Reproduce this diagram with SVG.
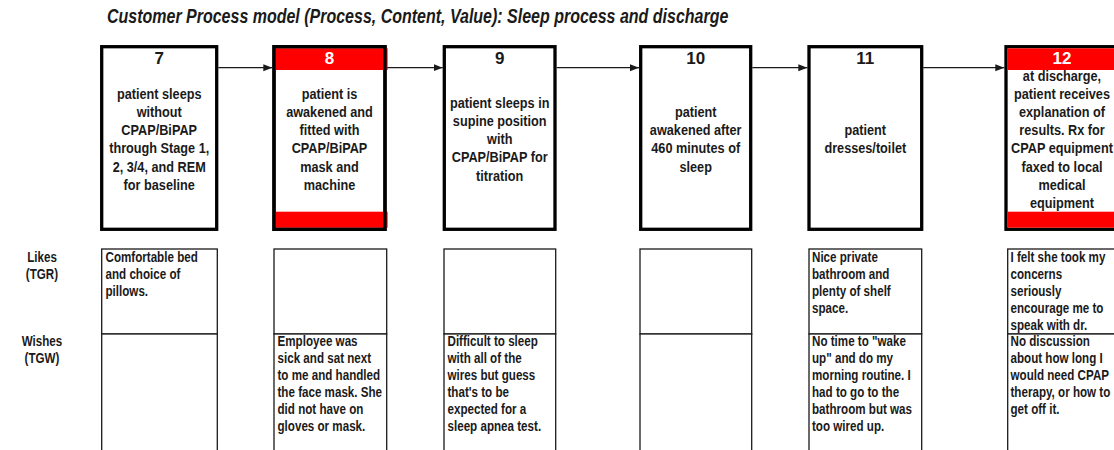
<svg xmlns="http://www.w3.org/2000/svg" width="1114" height="450" viewBox="0 0 1114 450">
<style>
text{font-family:"Liberation Sans",Arial,sans-serif;font-weight:bold;fill:#1a1a1a}
.title{font-size:19.5px;font-style:italic}
.num{font-size:17px;text-anchor:middle}
.numw{fill:#fff}
.body{font-size:15.3px;text-anchor:middle}
.cell{font-size:14px}
.lbl{font-size:14px;text-anchor:middle}
.box{fill:#fff;stroke:#000;stroke-width:3.3}
.band{fill:#ff0000}
.tbl{fill:#fff;stroke:#1a1a1a;stroke-width:1.3}
.conn{stroke:#1a1a1a;stroke-width:1.3;fill:none}
</style>
<defs>
<marker id="arr" markerUnits="userSpaceOnUse" markerWidth="10" markerHeight="8" refX="9" refY="3.5" orient="auto">
<path d="M0,0 L9,3.5 L0,7 z" fill="#1a1a1a"/>
</marker>
</defs>
<rect width="1114" height="450" fill="#fff"/>
<g id="title" transform="translate(107 0) scale(0.82 1)"><text class="title" x="0" y="23.5">Customer Process model (Process, Content, Value): Sleep process and discharge</text></g>

<g id="connectors">
<line class="conn" x1="218.3" y1="67.7" x2="272.3" y2="67.7" marker-end="url(#arr)"/>
<line class="conn" x1="386.7" y1="67.7" x2="442.7" y2="67.7" marker-end="url(#arr)"/>
<line class="conn" x1="556.7" y1="67.7" x2="639" y2="67.7" marker-end="url(#arr)"/>
<line class="conn" x1="752.3" y1="67.7" x2="807.3" y2="67.7" marker-end="url(#arr)"/>
<line class="conn" x1="923.3" y1="67.7" x2="1004.3" y2="67.7" marker-end="url(#arr)"/>
</g>

<g id="step7">
<rect class="box" x="101.7" y="46.7" width="115" height="182.6"/>
<text class="num" x="159.2" y="63.5">7</text>
<g transform="translate(159.2 0) scale(0.83 1)"><text class="body"><tspan x="0" y="98.8">patient sleeps</tspan><tspan x="0" y="117">without</tspan><tspan x="0" y="135.2">CPAP/BiPAP</tspan><tspan x="0" y="153.4">through Stage 1,</tspan><tspan x="0" y="171.6">2, 3/4, and REM</tspan><tspan x="0" y="189.8">for baseline</tspan></text></g>
</g>

<g id="step8">
<rect class="box" x="274" y="46.7" width="111" height="182.6"/>
<rect class="band" x="275.6" y="48.3" width="112" height="21.7"/>
<rect class="band" x="275.6" y="211.7" width="112" height="16"/>
<rect x="274" y="46.7" width="111" height="182.6" fill="none" stroke="#000" stroke-width="3.3"/>
<text class="num numw" x="329.5" y="63.5">8</text>
<g transform="translate(329.5 0) scale(0.83 1)"><text class="body"><tspan x="0" y="98.8">patient is</tspan><tspan x="0" y="117">awakened and</tspan><tspan x="0" y="135.2">fitted with</tspan><tspan x="0" y="153.4">CPAP/BiPAP</tspan><tspan x="0" y="171.6">mask and</tspan><tspan x="0" y="189.8">machine</tspan></text></g>
</g>

<g id="step9">
<rect class="box" x="444.3" y="46.7" width="110.7" height="182.6"/>
<text class="num" x="499.7" y="63.5">9</text>
<g transform="translate(499.7 0) scale(0.83 1)"><text class="body"><tspan x="0" y="107.9">patient sleeps in</tspan><tspan x="0" y="126.1">supine position</tspan><tspan x="0" y="144.3">with</tspan><tspan x="0" y="162.5">CPAP/BiPAP for</tspan><tspan x="0" y="180.7">titration</tspan></text></g>
</g>

<g id="step10">
<rect class="box" x="640.7" y="46.7" width="110" height="182.6"/>
<text class="num" x="695.7" y="63.5">10</text>
<g transform="translate(695.7 0) scale(0.83 1)"><text class="body"><tspan x="0" y="117">patient</tspan><tspan x="0" y="135.2">awakened after</tspan><tspan x="0" y="153.4">460 minutes of</tspan><tspan x="0" y="171.6">sleep</tspan></text></g>
</g>

<g id="step11">
<rect class="box" x="809" y="46.7" width="112.7" height="182.6"/>
<text class="num" x="865.3" y="63.5">11</text>
<g transform="translate(865.3 0) scale(0.83 1)"><text class="body"><tspan x="0" y="135.2">patient</tspan><tspan x="0" y="153.4">dresses/toilet</tspan></text></g>
</g>

<g id="step12">
<rect class="box" x="1006" y="46.7" width="112" height="182.6"/>
<rect class="band" x="1007.6" y="48.3" width="112" height="21.7"/>
<rect class="band" x="1007.6" y="211.7" width="112" height="16"/>
<text class="num numw" x="1062" y="63.5">12</text>
<g transform="translate(1062 0) scale(0.83 1)"><text class="body"><tspan x="0" y="80.6">at discharge,</tspan><tspan x="0" y="98.8">patient receives</tspan><tspan x="0" y="117">explanation of</tspan><tspan x="0" y="135.2">results. Rx for</tspan><tspan x="0" y="153.4">CPAP equipment</tspan><tspan x="0" y="171.6">faxed to local</tspan><tspan x="0" y="189.8">medical</tspan><tspan x="0" y="208">equipment</tspan></text></g>
</g>

<g id="row-labels">
<g transform="translate(42 0) scale(0.83 1)"><text class="lbl"><tspan x="0" y="262">Likes</tspan><tspan x="0" y="279">(TGR)</tspan><tspan x="0" y="346">Wishes</tspan><tspan x="0" y="363">(TGW)</tspan></text></g>
</g>

<g id="col7">
<rect class="tbl" x="101.7" y="249" width="115.6" height="85"/>
<rect class="tbl" x="101.7" y="334" width="115.6" height="130"/>
<g transform="translate(105.5 0) scale(0.83 1)"><text class="cell"><tspan x="0" y="262">Comfortable bed</tspan><tspan x="0" y="279">and choice of</tspan><tspan x="0" y="296">pillows.</tspan></text></g>
</g>

<g id="col8">
<rect class="tbl" x="274" y="249" width="112.7" height="85"/>
<rect class="tbl" x="274" y="334" width="112.7" height="130"/>
<g transform="translate(277.5 0) scale(0.83 1)"><text class="cell"><tspan x="0" y="346">Employee was</tspan><tspan x="0" y="363">sick and sat next</tspan><tspan x="0" y="380">to me and handled</tspan><tspan x="0" y="397">the face mask. She</tspan><tspan x="0" y="414">did not have on</tspan><tspan x="0" y="431">gloves or mask.</tspan></text></g>
</g>

<g id="col9">
<rect class="tbl" x="444" y="249" width="111.7" height="85"/>
<rect class="tbl" x="444" y="334" width="111.7" height="130"/>
<g transform="translate(447.5 0) scale(0.83 1)"><text class="cell"><tspan x="0" y="346">Difficult to sleep</tspan><tspan x="0" y="363">with all of the</tspan><tspan x="0" y="380">wires but guess</tspan><tspan x="0" y="397">that's to be</tspan><tspan x="0" y="414">expected for a</tspan><tspan x="0" y="431">sleep apnea test.</tspan></text></g>
</g>

<g id="col10">
<rect class="tbl" x="640" y="249" width="111.7" height="85"/>
<rect class="tbl" x="640" y="334" width="111.7" height="130"/>
</g>

<g id="col11">
<rect class="tbl" x="809" y="249" width="112.7" height="85"/>
<rect class="tbl" x="809" y="334" width="112.7" height="130"/>
<g transform="translate(812 0) scale(0.83 1)"><text class="cell"><tspan x="0" y="262">Nice private</tspan><tspan x="0" y="279">bathroom and</tspan><tspan x="0" y="296">plenty of shelf</tspan><tspan x="0" y="313">space.</tspan><tspan x="0" y="346">No time to "wake</tspan><tspan x="0" y="363">up" and do my</tspan><tspan x="0" y="380">morning routine. I</tspan><tspan x="0" y="397">had to go to the</tspan><tspan x="0" y="414">bathroom but was</tspan><tspan x="0" y="431">too wired up.</tspan></text></g>
</g>

<g id="col12">
<rect class="tbl" x="1007.7" y="249" width="112" height="85"/>
<rect class="tbl" x="1007.7" y="334" width="112" height="130"/>
<g transform="translate(1010.5 0) scale(0.83 1)"><text class="cell"><tspan x="0" y="262">I felt she took my</tspan><tspan x="0" y="279">concerns</tspan><tspan x="0" y="296">seriously</tspan><tspan x="0" y="313">encourage me to</tspan><tspan x="0" y="330">speak with dr.</tspan><tspan x="0" y="346">No discussion</tspan><tspan x="0" y="363">about how long I</tspan><tspan x="0" y="380">would need CPAP</tspan><tspan x="0" y="397">therapy, or how to</tspan><tspan x="0" y="414">get off it.</tspan></text></g>
</g>
</svg>
